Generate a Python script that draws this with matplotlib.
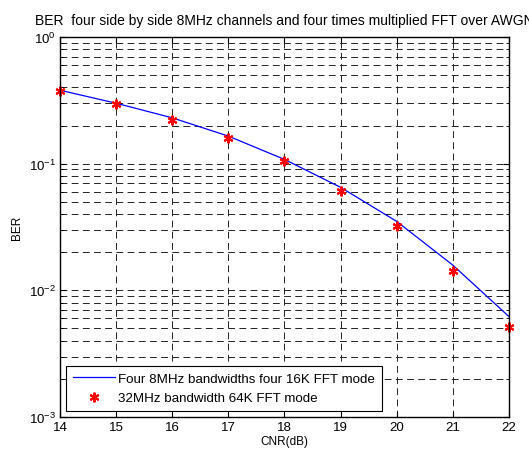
import numpy as np
import matplotlib
matplotlib.use("Agg")
import matplotlib.pyplot as plt
from matplotlib.ticker import LogLocator, FixedLocator, NullFormatter

plt.rcParams['font.family'] = ['Liberation Sans', 'DejaVu Sans']
plt.rcParams['mathtext.fontset'] = 'custom'
plt.rcParams['mathtext.rm'] = 'Liberation Sans'
plt.rcParams['mathtext.it'] = 'Liberation Sans'

# data
cnr = [14, 15, 16, 17, 18, 19, 20, 21, 22]
ber_line = [0.38, 0.30, 0.23, 0.165, 0.108, 0.065, 0.035, 0.0158, 0.0062]
ber_pts = [0.375, 0.296, 0.222, 0.158, 0.105, 0.061, 0.032, 0.0142, 0.0051]

line_label = "Four 8MHz bandwidths four 16K FFT mode"
pts_label = "32MHz bandwidth 64K FFT mode"
title = "BER  four side by side 8MHz channels and four times multiplied FFT over AWGN"

fig = plt.figure(figsize=(5.29, 4.56), dpi=100)
ax = fig.add_axes([0.1134, 0.0833, 0.8488, 0.8334])

ax.semilogy(cnr, ber_line, color='blue', linewidth=0.9, label=line_label)
ax.semilogy(cnr, ber_pts, linestyle='none', marker=(6, 2, 0), color='red',
            markersize=7, markeredgewidth=1.5, label=pts_label, clip_on=False)

ax.set_xlim(14, 22)
ax.set_ylim(1e-3, 1)
ax.xaxis.set_major_locator(FixedLocator(cnr))
ax.yaxis.set_major_locator(LogLocator(base=10, numticks=10))
ax.yaxis.set_minor_locator(LogLocator(base=10, subs=np.arange(2, 10), numticks=20))
ax.yaxis.set_minor_formatter(NullFormatter())

dash = (0, (7, 4.5))
ax.grid(True, which='major', axis='both', color='#222222', linestyle=dash, linewidth=0.7)
ax.grid(True, which='minor', axis='y', color='#222222', linestyle=dash, linewidth=0.7)

ax.tick_params(which='both', direction='in', top=True, right=True, labelsize=9.5)
ax.tick_params(which='major', length=4, pad=3)
ax.tick_params(which='minor', length=2.5)
for s in ax.spines.values():
    s.set_linewidth(1.0)

ax.set_xlabel("CNR(dB)", fontsize=8.5, labelpad=1)
ax.set_ylabel("BER", fontsize=8.5, labelpad=4)
ax.set_title(title, fontsize=10, pad=9)

leg = ax.legend(loc='lower left', fontsize=9.6, fancybox=False, framealpha=1,
                edgecolor='black', borderaxespad=0.45, handlelength=3.2,
                handletextpad=0.2, borderpad=0.5, labelspacing=0.55)
leg.get_frame().set_linewidth(0.8)

fig.savefig("out.png", dpi=100)
